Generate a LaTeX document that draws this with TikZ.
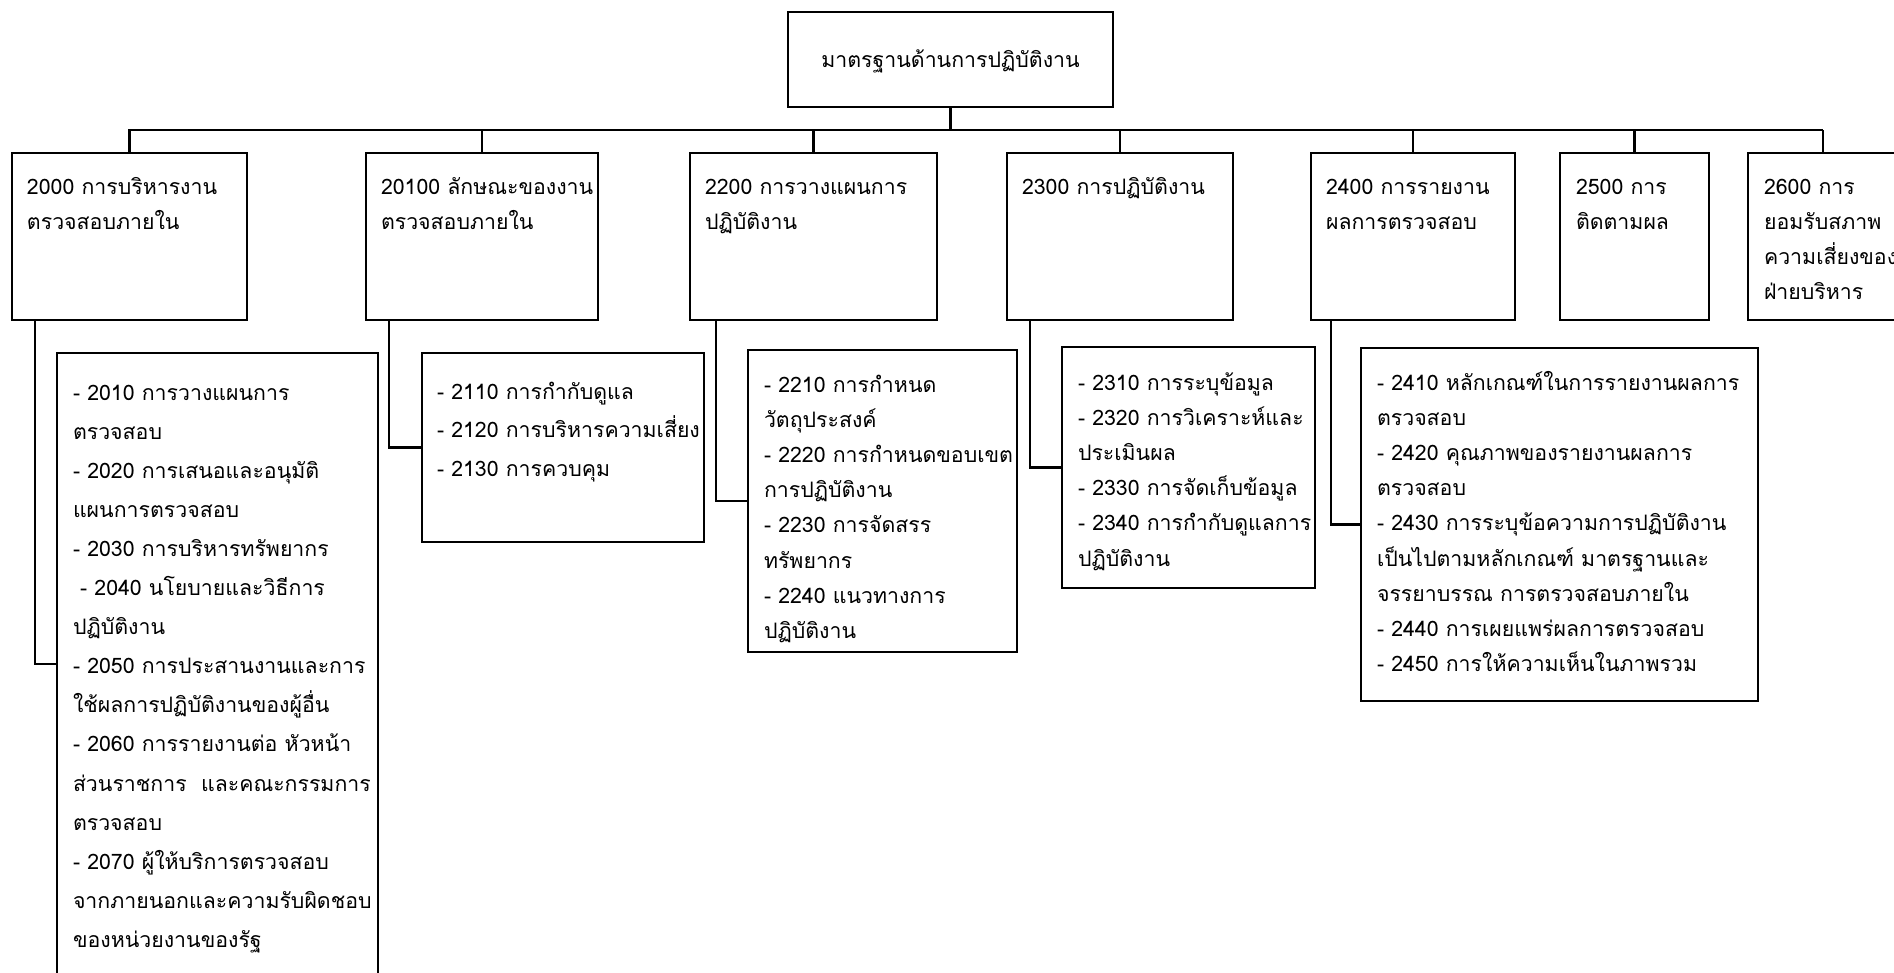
\documentclass[tikz,border=0pt]{standalone}
\usepackage{fontspec}
\newfontfamily\thaifont[Script=Thai]{Loma}
\usetikzlibrary{calc}
% multi-line label: first baseline is the box baseline, fixed line pitch
\newcommand{\stack}[2]{\parbox[t]{600pt}{\raggedright\lineskiplimit=-100pt\lineskip=0pt\setlength{\baselineskip}{#1}#2}}
\begin{document}
\begin{tikzpicture}[x=1pt,y=-1pt,
  box/.style={draw=black, line width=2.7pt, rectangle, inner sep=0pt, outer sep=0pt, anchor=north west},
  lbl/.style={anchor=base west, inner sep=0pt, outer sep=0pt, font=\thaifont\fontsize{21.3}{35}\selectfont},
  link/.style={draw=black, line width=2.7pt}]
\useasboundingbox (0,0) rectangle (1894,973);

% root
\node[box, minimum width=325pt, minimum height=95pt] (root) at (788,12) {};
\node[inner sep=0pt, font=\thaifont\fontsize{21.3}{35}\selectfont] (troot) at ($(root.center)+(0,2)$) {มาตรฐานด้านการปฏิบัติงาน};

% second level boxes
\node[box, minimum width=235pt, minimum height=167pt] (b2000) at (12,153) {};
\node[box, minimum width=232pt, minimum height=167pt] (b2100) at (366,153) {};
\node[box, minimum width=247pt, minimum height=167pt] (b2200) at (690,153) {};
\node[box, minimum width=226pt, minimum height=167pt] (b2300) at (1007,153) {};
\node[box, minimum width=204pt, minimum height=167pt] (b2400) at (1311,153) {};
\node[box, minimum width=149pt, minimum height=167pt] (b2500) at (1560,153) {};
\node[box, minimum width=150pt, minimum height=167pt] (b2600) at (1748,153) {};

\node[lbl] (t2000) at (27,195) {\stack{35pt}{2000 การบริหารงาน\\ตรวจสอบภายใน}};
\node[lbl] (t2100) at (381,195) {\stack{35pt}{20100 ลักษณะของงาน\\ตรวจสอบภายใน}};
\node[lbl] (t2200) at (705,195) {\stack{35pt}{2200 การวางแผนการ\\ปฏิบัติงาน}};
\node[lbl] (t2300) at (1022,195) {\stack{35pt}{2300 การปฏิบัติงาน}};
\node[lbl] (t2400) at (1326,195) {\stack{35pt}{2400 การรายงาน\\ผลการตรวจสอบ}};
\node[lbl] (t2500) at (1576,195) {\stack{35pt}{2500 การ\\ติดตามผล}};
\node[lbl] (t2600) at (1764,195) {\stack{35pt}{2600 การ\\ยอมรับสภาพ\\ความเสี่ยงของ\\ฝ่ายบริหาร}};

% third level boxes
\node[box, minimum width=321pt, minimum height=622pt] (c2000) at (57,353) {};
\node[box, minimum width=282pt, minimum height=189pt] (c2100) at (422,353) {};
\node[box, minimum width=269pt, minimum height=302pt] (c2200) at (748,350) {};
\node[box, minimum width=253pt, minimum height=241pt] (c2300) at (1062,347) {};
\node[box, minimum width=397pt, minimum height=353pt] (c2400) at (1361,348) {};

\node[lbl] (u2000) at (73,400) {\stack{39.1pt}{- 2010 การวางแผนการ\\ตรวจสอบ\\- 2020 การเสนอและอนุมัติ\\แผนการตรวจสอบ\\- 2030 การบริหารทรัพยากร\\\ - 2040 นโยบายและวิธีการ\\ปฏิบัติงาน\\- 2050 การประสานงานและการ\\ใช้ผลการปฏิบัติงานของผู้อื่น\\- 2060 การรายงานต่อ หัวหน้า\\ส่วนราชการ\ \ และคณะกรรมการ\\ตรวจสอบ\\- 2070 ผู้ให้บริการตรวจสอบ\\จากภายนอกและความรับผิดชอบ\\ของหน่วยงานของรัฐ}};
\node[lbl] (u2100) at (437,399) {\stack{38.5pt}{- 2110 การกำกับดูแล\\- 2120 การบริหารความเสี่ยง\\- 2130 การควบคุม}};
\node[lbl] (u2200) at (764,392) {\stack{35.2pt}{- 2210 การกำหนด\\วัตถุประสงค์\\- 2220 การกำหนดขอบเขต\\การปฏิบัติงาน\\- 2230 การจัดสรร\\ทรัพยากร\\- 2240 แนวทางการ\\ปฏิบัติงาน}};
\node[lbl] (u2300) at (1078,390) {\stack{35.2pt}{- 2310 การระบุข้อมูล\\- 2320 การวิเคราะห์และ\\ประเมินผล\\- 2330 การจัดเก็บข้อมูล\\- 2340 การกำกับดูแลการ\\ปฏิบัติงาน}};
\node[lbl] (u2400) at (1377,390) {\stack{35.2pt}{- 2410 หลักเกณฑ์ในการรายงานผลการ\\ตรวจสอบ\\- 2420 คุณภาพของรายงานผลการ\\ตรวจสอบ\\- 2430 การระบุข้อความการปฏิบัติงาน\\เป็นไปตามหลักเกณฑ์ มาตรฐานและ\\จรรยาบรรณ การตรวจสอบภายใน\\- 2440 การเผยแพร่ผลการตรวจสอบ\\- 2450 การให้ความเห็นในภาพรวม}};

% connectors: root to the bar, bar to each second level box
\coordinate (barL) at (128,130);
\coordinate (barR) at (1823,130);
\draw[link] (barL) -- (barR);
\draw[link] (root.south) -- (root.south |- barL);
\foreach \b in {b2000,b2100,b2200,b2300,b2400,b2500,b2600}
  \draw[link] (\b.north) -- (\b.north |- barL);

% connectors: second level box down and across to its detail box
\foreach \b/\c/\dx in {b2000/c2000/23, b2100/c2100/23, b2200/c2200/26, b2300/c2300/23, b2400/c2400/20}
  \draw[link] ($(\b.south west)+(\dx,0)$) |- (\c.west);
\end{tikzpicture}
\end{document}
